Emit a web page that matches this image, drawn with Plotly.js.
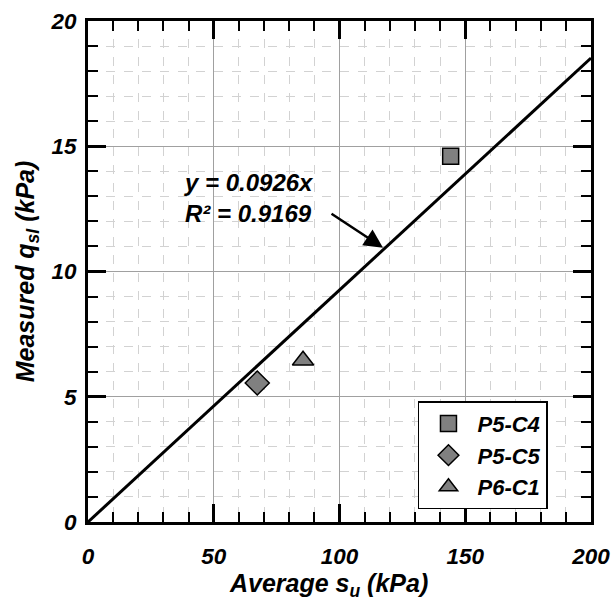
<!DOCTYPE html>
<html>
<head>
<meta charset="utf-8">
<script src="https://cdn.plot.ly/plotly-3.0.1.min.js"></script>
<style>html,body{margin:0;padding:0;background:#fff;}#chart{width:613px;height:603px;}</style>
</head>
<body>
<div id="chart"></div>
<script>
// Data
const seriesNames = ["P5-C4", "P5-C5", "P6-C1"];
const seriesX = [[144.2], [67.3], [85.5]];
const seriesY = [[14.6], [5.55], [6.45]];
const seriesSymbols = ["square", "diamond", "triangle-up"];
const fitSlope = 0.0926;
const fitR2 = 0.9169;
const fitX = [0, 200];
const fitY = fitX.map(function (x) { return fitSlope * x; });
const xTickVals = [0, 50, 100, 150, 200];
const yTickVals = [0, 5, 10, 15, 20];

const FONT = "Liberation Sans, Arial, sans-serif";
const sizes = [16, 18.5, 18.5];

const traces = [{
  x: fitX, y: fitY, mode: "lines", type: "scatter",
  line: {color: "black", width: 3}, showlegend: false, hoverinfo: "skip"
}];
seriesNames.forEach(function (n, i) {
  traces.push({
    x: seriesX[i], y: seriesY[i], name: n, mode: "markers", type: "scatter",
    marker: {symbol: seriesSymbols[i], size: sizes[i], color: "#808080",
             line: {color: "black", width: 1.5}}
  });
});

function axis(range, minorDtick, tickvals, titleText) {
  return {
    range: range, tickvals: tickvals, ticks: "inside", ticklen: 18, tickwidth: 3,
    tickcolor: "black", showline: true, linecolor: "black", linewidth: 3,
    mirror: "allticks", showgrid: true, gridcolor: "#a0a0a0", gridwidth: 1,
    zeroline: false, fixedrange: true,
    tickfont: {family: FONT, size: 22.5, color: "black", weight: "bold", style: "italic"},
    minor: {dtick: minorDtick, tick0: 0, ticks: "inside", ticklen: 10, tickwidth: 2,
            tickcolor: "black", showgrid: true, gridcolor: "#d2d2d2", gridwidth: 1, griddash: "dash"},
    title: {text: titleText, font: {family: FONT, size: 25, color: "black", weight: "bold", style: "italic"}}
  };
}

const xa = axis([0, 200], 10, xTickVals, "Average s<sub>u</sub> (kPa)&nbsp;&nbsp;&nbsp;");
xa.ticklabelstandoff = 12;
xa.title.standoff = 2;
const ya = axis([0, 20], 1, yTickVals, "Measured q<sub>sl</sub> (kPa)");
ya.ticklabelstandoff = 4;
ya.title.standoff = 9;

const layout = {
  width: 613, height: 603,
  margin: {l: 88, r: 22, t: 21, b: 81},
  paper_bgcolor: "white", plot_bgcolor: "white",
  xaxis: xa, yaxis: ya,
  showlegend: true,
  legend: {x: 0.656, y: 0.241, xanchor: "left", yanchor: "top", itemwidth: 48,
           bgcolor: "white", bordercolor: "black", borderwidth: 1.5,
           font: {family: FONT, size: 22, color: "black", weight: "bold", style: "italic"}},
  annotations: [
    {x: 37.3, y: 12.95, xref: "x", yref: "y", xanchor: "left", yanchor: "middle",
     align: "left", showarrow: false,
     text: "y = " + fitSlope + "x<br>R² = " + fitR2,
     font: {family: FONT, size: 24, color: "black", weight: "bold", style: "italic"}},
    {x: 117.3, y: 10.95, xref: "x", yref: "y", text: "", showarrow: true,
     ax: -53, ay: -35, arrowhead: 2, arrowsize: 1.5, arrowwidth: 2.5, arrowcolor: "black"}
  ]
};

Plotly.newPlot("chart", traces, layout, {displayModeBar: false, staticPlot: true});
</script>
</body>
</html>
